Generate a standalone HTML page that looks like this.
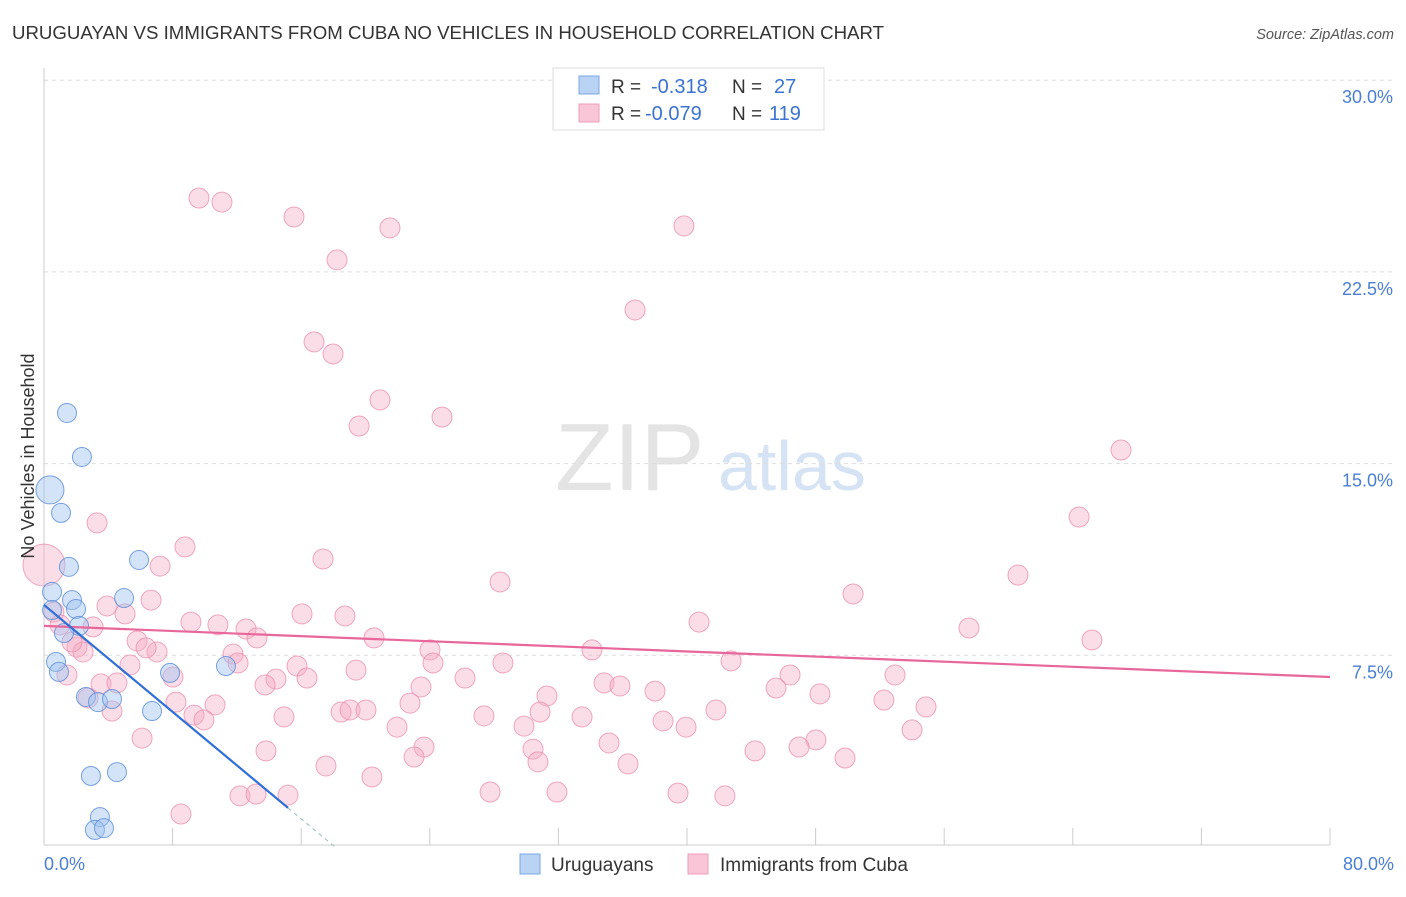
<!DOCTYPE html>
<html><head><meta charset="utf-8"><style>
body{margin:0;background:#fff;font-family:"Liberation Sans",sans-serif;}
svg text{font-family:"Liberation Sans",sans-serif;}
</style></head><body>
<svg id="chart" width="1406" height="892" viewBox="0 0 1406 892">
<text x="12" y="39" font-size="18" fill="#333" textLength="872" lengthAdjust="spacingAndGlyphs">URUGUAYAN VS IMMIGRANTS FROM CUBA NO VEHICLES IN HOUSEHOLD CORRELATION CHART</text>
<text x="1394" y="39" font-size="14.5" fill="#555" font-style="italic" text-anchor="end">Source: ZipAtlas.com</text>
<text x="555" y="490" font-size="96" fill="#e4e4e4" font-family="Liberation Serif">ZIP</text>
<text x="718" y="490" font-size="70" fill="#d5e3f5">atlas</text>
<g id="grid"></g><g id="axes"></g><g id="pts"></g><g id="lines"></g>
<text transform="translate(34,456) rotate(-90)" font-size="18" fill="#333" text-anchor="middle">No Vehicles in Household</text>
<text x="44" y="870" font-size="18" fill="#4a7fd4">0.0%</text>
<text x="1394" y="870" font-size="18" fill="#4a7fd4" text-anchor="end">80.0%</text>
<g>
<rect x="553" y="68" width="271" height="62" fill="#fff" stroke="#ddd"/>
<rect x="579" y="76" width="20" height="18" fill="#b9d3f4" stroke="#7aa7e4"/>
<rect x="579" y="104" width="20" height="18" fill="#f8c6d6" stroke="#ee9fbc"/>
<text x="611" y="93" font-size="19" fill="#333">R = <tspan fill="#3b73d1" x="651" font-size="20">-0.318</tspan><tspan x="732">N = </tspan><tspan fill="#3b73d1" x="774" font-size="20">27</tspan></text>
<text x="611" y="120" font-size="19" fill="#333">R = <tspan fill="#3b73d1" x="645" font-size="20">-0.079</tspan><tspan x="732">N = </tspan><tspan fill="#3b73d1" x="769" font-size="20">119</tspan></text>
</g>
<g>
<rect x="520" y="854" width="20" height="20" fill="#b9d3f4" stroke="#7aa7e4"/>
<text x="551" y="871" font-size="19" fill="#333">Uruguayans</text>
<rect x="688" y="854" width="20" height="20" fill="#f8c6d6" stroke="#ee9fbc"/>
<text x="720" y="871" font-size="19" fill="#333">Immigrants from Cuba</text>
</g>
</svg>
<script>
const yTicks=[7.5,15,22.5,30];
const yTickLabels=["7.5%","15.0%","22.5%","30.0%"];
const xTicks=[0,8,16,24,32,40,48,56,64,72,80];
const blueX=[1.43,2.36,0.37,1.06,1.55,5.91,0.50,1.74,1.99,4.98,2.18,1.24,0.75,0.93,7.84,11.32,2.61,3.36,4.23,6.72,2.92,4.54,3.48,3.17,3.73,0.50];
const blueY=[16.98,15.26,13.97,13.07,10.96,11.23,9.98,9.66,9.31,9.74,8.65,8.37,7.24,6.85,6.81,7.08,5.87,5.67,5.79,5.32,2.78,2.93,1.17,0.67,0.74,9.27];
const pinkX=[9.64,11.07,15.55,21.52,39.81,18.23,36.77,16.80,17.98,20.90,24.76,19.60,67.00,64.39,3.30,8.77,17.36,7.22,60.59,28.37,50.33,6.66,3.92,5.04,16.05,18.72,9.14,10.82,40.75,12.57,57.54,13.25,3.05,5.79,20.53,24.01,34.09,65.19,7.03,6.35,11.76,2.05,2.43,5.35,15.74,28.55,24.20,42.74,12.07,19.41,46.41,52.94,1.43,8.02,16.36,26.19,14.43,3.55,4.54,34.84,35.83,13.75,23.45,38.01,45.54,31.29,48.27,52.25,22.77,8.21,10.64,18.48,19.04,20.03,41.80,54.87,4.23,9.33,9.95,14.93,27.37,30.86,33.47,38.51,21.96,29.86,39.94,54.00,6.10,48.02,13.81,23.64,30.42,35.15,44.23,46.97,23.02,30.73,49.83,36.33,17.54,20.40,27.75,31.91,39.44,42.36,12.19,13.19,15.18,8.52,0.62,1.00,1.74,2.74,0.0];
const pinkY=[25.39,25.23,24.65,24.22,24.30,22.97,21.01,19.76,19.29,17.49,16.82,16.47,15.53,12.91,12.68,11.74,11.27,10.99,10.64,10.37,9.90,9.66,9.43,9.12,9.12,9.04,8.80,8.69,8.80,8.53,8.57,8.18,8.61,8.06,8.18,7.71,7.71,8.10,7.63,7.79,7.55,7.82,7.63,7.12,7.08,7.20,7.20,7.28,7.20,6.92,6.73,6.73,6.73,6.65,6.61,6.61,6.57,6.38,6.42,6.42,6.30,6.34,6.26,6.10,6.22,5.91,5.99,5.75,5.63,5.67,5.56,5.28,5.36,5.36,5.36,5.48,5.32,5.16,4.97,5.09,5.13,5.28,5.09,4.93,4.69,4.73,4.69,4.58,4.26,4.19,3.76,3.91,3.83,4.07,3.76,3.91,3.52,3.33,3.48,3.25,3.17,2.74,2.15,2.15,2.11,2.00,2.00,2.07,2.03,1.29,9.19,8.69,8.02,5.83,11.03];
const pinkFit=[8.65,6.65];
const blueFit=[9.47,1.53,15.18,18.1];
const X=v=>44+v*16.075, Y=v=>847-v*25.56;
const NS="http://www.w3.org/2000/svg";
function mk(t,a,p){const e=document.createElementNS(NS,t);for(const k in a)e.setAttribute(k,a[k]);p.appendChild(e);return e;}
const grid=document.getElementById('grid'),axes=document.getElementById('axes'),pts=document.getElementById('pts'),lines=document.getElementById('lines');
yTicks.forEach((t,i)=>{
 const l=mk('line',{x1:44,x2:1394,y1:Y(t),y2:Y(t),stroke:'#ddd','stroke-dasharray':'4,4'},grid);
 
 
 const tx=mk('text',{x:1393,y:Y(t)+23,'font-size':18,fill:'#4a7fd4','text-anchor':'end'},grid);
 tx.textContent=yTickLabels[i];
 
 
});
const ya=mk('line',{x1:44,x2:44,y1:68,y2:845,stroke:'#ccc'},axes);


const xa=mk('line',{x1:44,x2:1330,y1:845,y2:845,stroke:'#ccc'},axes);


xTicks.forEach(t=>{
 const l=mk('line',{x1:X(t),x2:X(t),y1:845,y2:828,stroke:'#ccc'},axes);
 
 
});
pinkX.forEach((x,i)=>{
 const big=(i===pinkX.length-1);
 const c=mk('circle',{cx:X(x),cy:Y(pinkY[i]),r:big?21:10,fill:'rgba(245,170,196,0.4)',stroke:'rgba(232,140,175,0.75)','stroke-width':1},pts);
 
 
});
blueX.forEach((x,i)=>{
 const big=(i===2);
 const c=mk('circle',{cx:X(x),cy:Y(blueY[i]),r:big?14:9.5,fill:'rgba(160,196,240,0.45)',stroke:'rgba(90,140,215,0.8)','stroke-width':1},pts);
 
 
});
const pl=mk('line',{x1:X(0),y1:Y(pinkFit[0]),x2:X(80),y2:Y(pinkFit[1]),stroke:'#e8679a','stroke-width':2.2},lines);


const bl=mk('line',{x1:X(0),y1:Y(blueFit[0]),x2:X(blueFit[2]),y2:Y(blueFit[1]),stroke:'#2f6fd6','stroke-width':2.2},lines);


const bd=mk('line',{x1:X(blueFit[2]),y1:Y(blueFit[1]),x2:X(blueFit[3]),y2:Y(0),stroke:'#9bb',
'stroke-width':1,'stroke-dasharray':'4,4'},lines);


</script>
</body></html>
